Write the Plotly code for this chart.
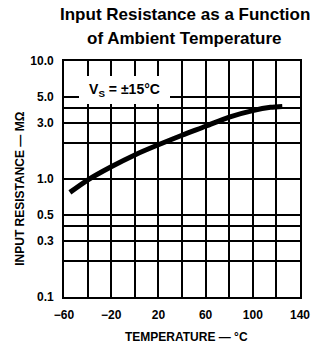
import plotly.graph_objects as go

# Input resistance vs ambient temperature
temperature_c = [-55, -40, -20, 0, 20, 40, 60, 80, 100, 115, 125]
resistance_mohm = [0.77, 0.98, 1.27, 1.60, 1.95, 2.35, 2.80, 3.35, 3.80, 4.05, 4.12]

x_tick_vals = [-60, -20, 20, 60, 100, 140]
x_tick_text = ["\u221260", "\u221220", "20", "60", "100", "140"]
y_tick_vals = [0.1, 0.3, 0.5, 1.0, 3.0, 5.0, 10.0]
y_tick_text = ["0.1", "0.3", "0.5", "1.0", "3.0", "5.0", "10.0"]
y_extra_grid = [0.2, 0.4, 2.0, 4.0]

title_lines = ["Input Resistance as a Function", "of Ambient Temperature"]

FONT = "Liberation Sans, Arial, Helvetica, sans-serif"
INK = "#000000"

fig = go.Figure()
fig.add_trace(go.Scatter(
    x=temperature_c, y=resistance_mohm, mode="lines",
    line=dict(color=INK, width=5, shape="spline", smoothing=0.8),
    hoverinfo="skip", showlegend=False,
))

fig.update_layout(
    width=322, height=351,
    margin=dict(l=64, r=16, t=61, b=54),
    paper_bgcolor="white", plot_bgcolor="white",
    font=dict(family=FONT, color=INK, size=12, weight="bold"),
    showlegend=False,
)

fig.update_xaxes(
    range=[-60, 140], tickmode="array", tickvals=x_tick_vals, ticktext=x_tick_text,
    showgrid=True, gridcolor=INK, gridwidth=1.5,
    minor=dict(tickmode="linear", tick0=-60, dtick=20, showgrid=True,
               gridcolor=INK, gridwidth=1.5),
    showline=True, linecolor=INK, linewidth=1.8, mirror=True,
    ticks="", ticklabelstandoff=6, zeroline=False,
    tickfont=dict(size=12, weight="bold"),
)
fig.update_yaxes(
    type="log", range=[-1, 1], tickmode="array", tickvals=y_tick_vals, ticktext=y_tick_text,
    showgrid=True, gridcolor=INK, gridwidth=1.5,
    minor=dict(tickmode="array", tickvals=y_extra_grid, showgrid=True,
               gridcolor=INK, gridwidth=1.5),
    showline=True, linecolor=INK, linewidth=1.8, mirror=True,
    ticks="", ticklabelstandoff=6, zeroline=False,
    tickfont=dict(size=12, weight="bold"),
)

# Two-line title
for text, ypos in zip(title_lines, [1.195, 1.097]):
    fig.add_annotation(
        text=text, xref="paper", yref="paper", x=0.512, y=ypos,
        xanchor="center", yanchor="middle", showarrow=False,
        font=dict(size=17, weight="bold"),
    )

# Axis titles
fig.add_annotation(
    text="TEMPERATURE \u2014 \u00b0C", xref="paper", yref="paper",
    x=0.52, y=-0.17, xanchor="center", yanchor="middle", showarrow=False,
    font=dict(size=12, weight="bold"),
)
fig.add_annotation(
    text="INPUT RESISTANCE \u2014 M\u03a9", xref="paper", yref="paper",
    x=-0.185, y=0.46, xanchor="center", yanchor="middle", textangle=-90,
    showarrow=False, font=dict(size=12, weight="bold"),
)

# Supply-voltage condition box
fig.add_annotation(
    text="V<sub>S</sub> = \u00b115\u00b0C", xref="paper", yref="paper",
    x=0.256, y=0.877, xanchor="center", yanchor="middle", showarrow=False,
    bgcolor="white", width=87, height=24, borderpad=2, borderwidth=0,
    font=dict(size=14, weight="bold"),
)

fig.write_html("out.html")
